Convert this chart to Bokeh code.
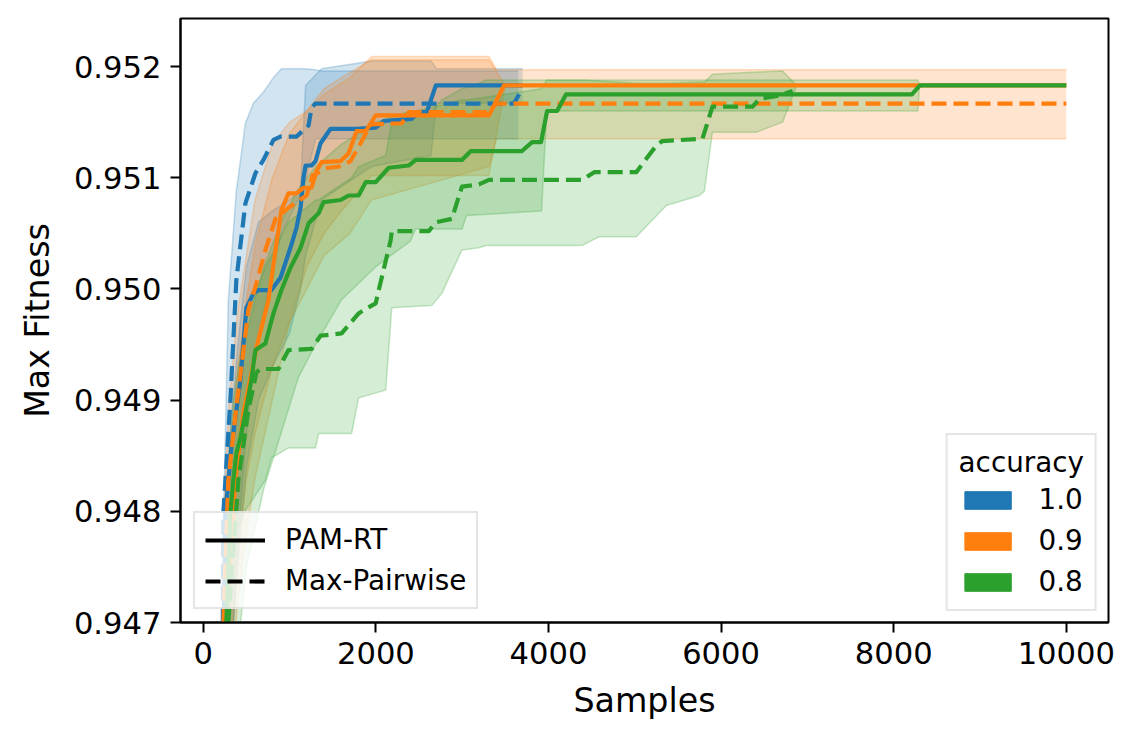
from bokeh.plotting import figure
from bokeh.models import (Range1d, FixedTicker, PrintfTickFormatter, Legend,
                          LegendItem, Band, ColumnDataSource)
from bokeh.embed import file_html
from bokeh.resources import INLINE

# ---------------- data ----------------
colors = {"1.0": "#1f77b4", "0.9": "#ff7f0e", "0.8": "#2ca02c"}

# accuracy 1.0
b_pam_x = [225, 256, 325, 430, 499, 581, 639, 790, 894, 1010, 1080, 1127, 1161, 1185, 1254, 1301, 1359, 1475, 1777, 1998, 2091, 2416, 2497, 2590, 2695, 3700]
b_pam_y = [0.9462, 0.94798, 0.94857, 0.94918, 0.94983, 0.94996, 0.94999, 0.94999, 0.95010, 0.95037, 0.95055, 0.95073, 0.95100, 0.95111, 0.95111, 0.95115, 0.95131, 0.95144, 0.95144, 0.95145, 0.95151, 0.95153, 0.95159, 0.95159, 0.95183, 0.95183]
b_mp_x = [225, 232, 314, 383, 488, 604, 697, 813, 894, 1080, 1220, 1254, 1300, 3600, 3660]
b_mp_y = [0.9468, 0.94798, 0.94900, 0.95008, 0.95077, 0.95104, 0.95116, 0.95134, 0.95137, 0.95137, 0.95147, 0.95163, 0.951667, 0.951667, 0.95175]

# accuracy 0.9
o_pam_x = [225, 267, 372, 465, 616, 755, 848, 906, 987, 1080, 1161, 1254, 1312, 1370, 1591, 1684, 1777, 1882, 1998, 3310, 3484, 10000]
o_pam_y = [0.9462, 0.9470, 0.94828, 0.94888, 0.94947, 0.94990, 0.95041, 0.95071, 0.95086, 0.95086, 0.95091, 0.95091, 0.95106, 0.95114, 0.95115, 0.95122, 0.95142, 0.95142, 0.95156, 0.95156, 0.95183, 0.95183]
o_mp_x = [225, 290, 372, 523, 616, 720, 836, 987, 1196, 1266, 1452, 1568, 1707, 1823, 1940, 2300, 2381, 3287, 3403, 10000]
o_mp_y = [0.9468, 0.94828, 0.94886, 0.94981, 0.95005, 0.95035, 0.95063, 0.95073, 0.95084, 0.95102, 0.95109, 0.95110, 0.95115, 0.95131, 0.95148, 0.95149, 0.95159, 0.95159, 0.951667, 0.951667]

# accuracy 0.8
g_pam_x = [225, 267, 314, 348, 383, 430, 499, 557, 604, 720, 813, 906, 1010, 1127, 1220, 1336, 1394, 1591, 1684, 1800, 1882, 1998, 2149, 2381, 2462, 2997, 3101, 3693, 3810, 3914, 3984, 4100, 4204, 8211, 8304, 10000]
g_pam_y = [0.9462, 0.9470, 0.94798, 0.94828, 0.94852, 0.94866, 0.94893, 0.94918, 0.94945, 0.94951, 0.94978, 0.94999, 0.95019, 0.95037, 0.95059, 0.95068, 0.95078, 0.95080, 0.95084, 0.95084, 0.95096, 0.95096, 0.95109, 0.95111, 0.95116, 0.95116, 0.95124, 0.95124, 0.95132, 0.95132, 0.95160, 0.95160, 0.95175, 0.95175, 0.95183, 0.95183]
g_mp_x = [225, 290, 406, 523, 616, 662, 871, 987, 1254, 1359, 1603, 1800, 1858, 1998, 2033, 2172, 2184, 2613, 2695, 2880, 2997, 3194, 3310, 4390, 4530, 5017, 5250, 5319, 5784, 5900, 6365, 6446, 6678, 6829]
g_mp_y = [0.9462, 0.9470, 0.94828, 0.94891, 0.94925, 0.94928, 0.94928, 0.94945, 0.94946, 0.94958, 0.94960, 0.94978, 0.94981, 0.94987, 0.94999, 0.95044, 0.95052, 0.95052, 0.95060, 0.95063, 0.95092, 0.95094, 0.95098, 0.95098, 0.95105, 0.95105, 0.95129, 0.95133, 0.95135, 0.95164, 0.95164, 0.95171, 0.95174, 0.95178]

# confidence bands
b_mp_bx = [225, 290, 383, 488, 581, 697, 813, 906, 1161, 1300, 1370, 3650]
b_mp_hi = [0.9476, 0.9499, 0.95088, 0.95149, 0.95167, 0.95177, 0.9519, 0.95198, 0.95198, 0.95197, 0.95196, 0.95196]
b_mp_lo = [0.9440, 0.9460, 0.9475, 0.9486, 0.9493, 0.9498, 0.9502, 0.9505, 0.9509, 0.95135, 0.95135, 0.95135]

b_pam_bx = [225, 300, 400, 500, 640, 800, 1000, 1127, 1185, 1370, 1950, 2640, 2700, 3700]
b_pam_hi = [0.9470, 0.9486, 0.9495, 0.9502, 0.9506, 0.9507, 0.9508, 0.9509, 0.95183, 0.95198, 0.95205, 0.95205, 0.95198, 0.95198]
b_pam_lo = [0.9440, 0.9465, 0.9475, 0.9484, 0.9490, 0.9493, 0.9496, 0.9500, 0.9503, 0.9508, 0.9511, 0.9512, 0.95167, 0.95167]

o_pam_bx = [225, 300, 400, 500, 600, 800, 1000, 1200, 1400, 1600, 1950, 3310, 3500, 10000]
o_pam_hi = [0.9472, 0.9484, 0.9493, 0.9499, 0.9504, 0.9510, 0.9514, 0.9516, 0.9518, 0.9519, 0.95206, 0.95206, 0.95183, 0.95183]
o_pam_lo = [0.9450, 0.9462, 0.9472, 0.9478, 0.9483, 0.9490, 0.9497, 0.9502, 0.9505, 0.9507, 0.95102, 0.95102, 0.95183, 0.95183]

o_mp_bx = [225, 300, 400, 500, 600, 800, 1000, 1200, 1400, 1700, 1950, 3310, 3400, 10000]
o_mp_hi = [0.9478, 0.9490, 0.9498, 0.9503, 0.9508, 0.9513, 0.9515, 0.9516, 0.95175, 0.9519, 0.95209, 0.95209, 0.95197, 0.95197]
o_mp_lo = [0.9455, 0.9466, 0.9476, 0.9483, 0.9487, 0.9493, 0.9497, 0.9500, 0.9503, 0.9505, 0.9508, 0.9511, 0.95135, 0.95135]

g_pam_bx = [225, 300, 500, 700, 900, 1100, 1300, 1600, 2000, 2400, 2460, 3000, 3050, 3920, 3980, 4200, 8280, 8300, 10000]
g_pam_hi = [0.9474, 0.9484, 0.9496, 0.9502, 0.9506, 0.9509, 0.9511, 0.9513, 0.9515, 0.9516, 0.9516, 0.9517, 0.9517, 0.9518, 0.95188, 0.95188, 0.95188, 0.95183, 0.95183]
g_pam_lo = [0.9445, 0.9460, 0.9475, 0.9482, 0.9487, 0.9492, 0.9495, 0.9499, 0.9502, 0.95043, 0.95054, 0.95054, 0.95066, 0.9507, 0.9516, 0.9516, 0.9516, 0.95183, 0.95183]

g_mp_bx = [225, 348, 488, 720, 790, 987, 1301, 1336, 1719, 1800, 2114, 2184, 2648, 2764, 2997, 3194, 3275, 4390, 4588, 5017, 5366, 5749, 5807, 5900, 6411, 6713, 6876]
g_mp_hi = [0.9478, 0.9490, 0.9497, 0.9502, 0.9503, 0.9506, 0.9508, 0.9508, 0.9510, 0.9511, 0.9512, 0.9515, 0.9516, 0.9517, 0.9518, 0.95185, 0.95188, 0.95188, 0.95187, 0.95185, 0.95185, 0.95186, 0.95186, 0.95193, 0.95195, 0.95196, 0.95183]
g_mp_lo = [0.9462, 0.94774, 0.94801, 0.94828, 0.94848, 0.94857, 0.94857, 0.9487, 0.9487, 0.94902, 0.94909, 0.94983, 0.94985, 0.94996, 0.95035, 0.95037, 0.95039, 0.95039, 0.95047, 0.95047, 0.95075, 0.95084, 0.95088, 0.95141, 0.95141, 0.9515, 0.95183]

x_ticks = [0, 2000, 4000, 6000, 8000, 10000]
y_ticks = [0.947, 0.948, 0.949, 0.950, 0.951, 0.952]

FONT = "DejaVu Sans"
FS_TICK = "30.6px"
FS_LABEL = "33.3px"
FS_LEG = "27.8px"

p = figure(frame_width=928, frame_height=604,
           x_range=Range1d(-264, 10489), y_range=Range1d(0.947, 0.952432),
           output_backend="svg", toolbar_location=None,
           min_border_left=180, min_border_right=32,
           min_border_top=18, min_border_bottom=118)
p.xgrid.visible = False
p.ygrid.visible = False
p.outline_line_color = "black"
p.outline_line_width = 2
p.outline_line_alpha = 1
p.background_fill_color = "white"
p.border_fill_color = "white"

# bands (drawn below the lines)
bands = [
    (b_pam_bx, b_pam_lo, b_pam_hi, colors["1.0"]),
    (b_mp_bx, b_mp_lo, b_mp_hi, colors["1.0"]),
    (o_pam_bx, o_pam_lo, o_pam_hi, colors["0.9"]),
    (o_mp_bx, o_mp_lo, o_mp_hi, colors["0.9"]),
    (g_pam_bx, g_pam_lo, g_pam_hi, colors["0.8"]),
    (g_mp_bx, g_mp_lo, g_mp_hi, colors["0.8"]),
]
for bx, lo, hi, c in bands:
    src = ColumnDataSource(dict(x=bx, lo=lo, hi=hi))
    p.add_layout(Band(base="x", lower="lo", upper="hi", source=src, level="underlay",
                      fill_color=c, fill_alpha=0.2, line_color=c, line_alpha=0.25,
                      line_width=1.5))

DASH = "15 7"
lines = [
    (b_pam_x, b_pam_y, colors["1.0"], "solid"),
    (b_mp_x, b_mp_y, colors["1.0"], DASH),
    (o_pam_x, o_pam_y, colors["0.9"], "solid"),
    (o_mp_x, o_mp_y, colors["0.9"], DASH),
    (g_pam_x, g_pam_y, colors["0.8"], "solid"),
    (g_mp_x, g_mp_y, colors["0.8"], DASH),
]
for lx, ly, c, d in lines:
    p.line(lx, ly, line_color=c, line_width=4.2, line_dash=d, line_join="round")

# axes
for ax in (p.xaxis[0], p.yaxis[0]):
    ax.major_label_text_font = FONT
    ax.major_label_text_font_size = FS_TICK
    ax.major_label_text_color = "black"
    ax.axis_label_text_font = FONT
    ax.axis_label_text_font_size = FS_LABEL
    ax.axis_label_text_font_style = "normal"
    ax.axis_label_text_color = "black"
    ax.major_tick_out = 10
    ax.major_tick_in = 0
    ax.minor_tick_out = 0
    ax.minor_tick_in = 0
    ax.major_tick_line_width = 2
    ax.axis_line_width = 2
    ax.major_label_standoff = 9

p.xaxis.ticker = FixedTicker(ticks=x_ticks)
p.xaxis.formatter = PrintfTickFormatter(format="%d")
p.yaxis.ticker = FixedTicker(ticks=y_ticks)
p.yaxis.formatter = PrintfTickFormatter(format="%.3f")
p.xaxis.axis_label = "Samples"
p.yaxis.axis_label = "Max Fitness"
p.xaxis.axis_label_standoff = 14
p.yaxis.axis_label_standoff = 14

# legend proxies (no visible data: NaN points)
nan = float("nan")
proxy = ColumnDataSource(dict(x=[nan], y=[nan], l=[nan], r=[nan], b=[nan], t=[nan]))
r_solid = p.line("x", "y", source=proxy, line_color="black", line_width=4.2)
r_dash = p.line("x", "y", source=proxy, line_color="black", line_width=4.2, line_dash=DASH)
leg1 = Legend(items=[LegendItem(label="PAM-RT", renderers=[r_solid]),
                     LegendItem(label="Max-Pairwise", renderers=[r_dash])],
              location=(13, 13), glyph_width=60, glyph_height=32, spacing=8,
              padding=10, label_standoff=20,
              label_text_font=FONT, label_text_font_size=FS_LEG,
              label_text_color="black",
              border_line_color="#cccccc", border_line_width=2,
              background_fill_alpha=0.8)
p.add_layout(leg1, "center")

patch_items = []
for lab in ["1.0", "0.9", "0.8"]:
    r = p.quad(left="l", right="r", bottom="b", top="t", source=proxy,
               fill_color=colors[lab], line_color=colors[lab])
    patch_items.append(LegendItem(label=lab, renderers=[r]))
leg2 = Legend(items=patch_items, location="bottom_right", margin=11,
              title="accuracy", title_text_font=FONT, title_text_font_size=FS_LEG,
              title_text_font_style="normal", title_text_color="black",
              title_standoff=4,
              glyph_width=58, glyph_height=22, spacing=8, padding=11,
              label_standoff=22, label_text_font=FONT, label_text_font_size=FS_LEG,
              label_text_color="black",
              border_line_color="#cccccc", border_line_width=2,
              background_fill_alpha=0.8)
p.add_layout(leg2, "center")

open("out.html", "w").write(file_html(p, INLINE))
